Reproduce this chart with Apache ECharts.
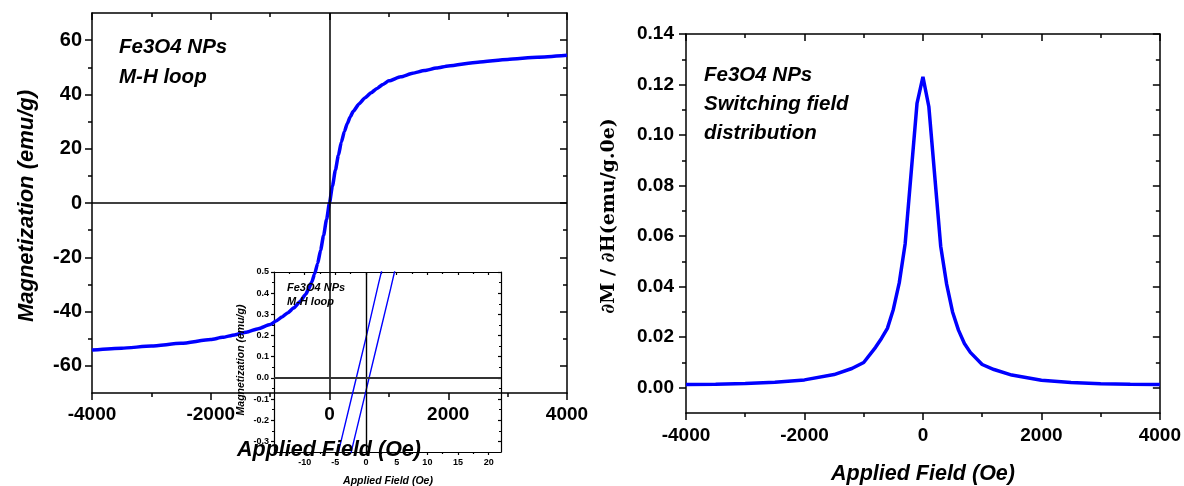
<!DOCTYPE html>
<html>
<head>
<meta charset="utf-8">
<script src="https://cdn.jsdelivr.net/npm/echarts@6/dist/echarts.min.js"></script>
<style>
  html, body { margin: 0; padding: 0; background: #fff; }
  #chart { width: 1184px; height: 486px; }
</style>
</head>
<body>
<div id="chart"></div>
<script>
// ---- M-H loop, main panel (field in Oe, magnetization in emu/g) ----
const mhField  = [-4000, -3500, -3000, -2500, -2000, -1800, -1600, -1400, -1200, -1000, -900, -800, -700, -600, -500, -400, -350, -300, -250, -200, -150, -100, -50, 0,
                   50, 100, 150, 200, 250, 300, 350, 400, 500, 600, 700, 800, 900, 1000, 1200, 1400, 1600, 1800, 2000, 2500, 3000, 3500, 4000];
const mhMoment = [-54.2, -53.5, -52.7, -51.7, -50.3, -49.5, -48.6, -47.6, -46.3, -44.8, -43.5, -42.0, -40.4, -38.6, -36.4, -33.6, -31.6, -29.1, -26.1, -22.3, -17.4, -12.0, -6.1, 0.1,
                   6.3, 12.2, 17.6, 22.5, 26.3, 29.3, 31.8, 33.8, 36.6, 38.8, 40.6, 42.2, 43.7, 45.0, 46.5, 47.8, 48.8, 49.7, 50.5, 51.9, 52.9, 53.7, 54.4];

// ---- M-H loop, low-field inset (two branches) ----
const branchDownField  = [-6, -4, -2, 0, 2, 4];
const branchDownMoment = [-0.53, -0.29, -0.05, 0.19, 0.44, 0.68];
const branchUpField    = [-4, -2, 0, 2, 4, 6];
const branchUpMoment   = [-0.54, -0.30, -0.06, 0.18, 0.42, 0.67];

// ---- Switching field distribution dM/dH ----
const sfdField = [-4000, -3500, -3000, -2500, -2000, -1500, -1200, -1000, -800, -700, -600, -500, -400, -300, -100, 0,
                  100, 300, 400, 500, 600, 700, 800, 1000, 1200, 1500, 2000, 2500, 3000, 3500, 4000];
const sfdValue = [0.0013, 0.0014, 0.0017, 0.0022, 0.0031, 0.0052, 0.0076, 0.0100, 0.0160, 0.0195, 0.0235, 0.0310, 0.0415, 0.0570, 0.1125, 0.1230,
                  0.1112, 0.0560, 0.0410, 0.0300, 0.0228, 0.0175, 0.0140, 0.0092, 0.0072, 0.0050, 0.0030, 0.0021, 0.0016, 0.0014, 0.0013];

// ---- tick values ----
const fieldTicks        = [-4000, -2000, 0, 2000, 4000];
const fieldMinorTicks   = [-3000, -1000, 1000, 3000];
const momentTicks       = [-60, -40, -20, 0, 20, 40, 60];
const momentMinorTicks  = [-50, -30, -10, 10, 30, 50];
const insetFieldTicks   = [-10, -5, 0, 5, 10, 15, 20];
const insetFieldMinor   = [-12.5, -7.5, -2.5, 2.5, 7.5, 12.5, 17.5];
const insetMomentTicks  = [-0.3, -0.2, -0.1, 0.0, 0.1, 0.2, 0.3, 0.4, 0.5];
const insetMomentMinor  = [-0.25, -0.15, -0.05, 0.05, 0.15, 0.25, 0.35, 0.45];
const sfdTicks          = [0, 0.02, 0.04, 0.06, 0.08, 0.10, 0.12, 0.14];
const sfdMinorTicks     = [0.01, 0.03, 0.05, 0.07, 0.09, 0.11, 0.13];

const SANS = '"Liberation Sans", Arial, Helvetica, sans-serif';
const BLUE = '#0000ff';

const zip = (a, b) => a.map((v, i) => [v, b[i]]);

// Four axes per side pair: labelled/major on the primary side, minor ticks,
// and mirrored inward ticks on the opposite side to close the frame.
function frameAxes(dim, gridIndex, min, max, major, minor, o) {
  const sides = dim === 'x' ? ['bottom', 'top'] : ['left', 'right'];
  const line = { color: '#000', width: o.lineWidth };
  const base = { type: 'value', gridIndex, min, max, splitLine: { show: false } };
  return [
    Object.assign({}, base, {
      position: sides[0],
      axisLine: { show: true, onZero: false, lineStyle: line },
      axisTick: { show: true, inside: false, length: o.major, customValues: major, lineStyle: line },
      axisLabel: {
        show: true, customValues: o.labels || major, margin: o.margin,
        fontFamily: SANS, fontWeight: 'bold', fontSize: o.fontSize, color: '#000',
        formatter: o.format
      }
    }),
    Object.assign({}, base, {
      position: sides[0],
      axisLine: { show: false, onZero: false },
      axisTick: { show: true, inside: false, length: o.minor, customValues: minor, lineStyle: line },
      axisLabel: { show: false }
    }),
    Object.assign({}, base, {
      position: sides[1],
      axisLine: { show: true, onZero: false, lineStyle: line },
      axisTick: { show: true, inside: true, length: o.major, customValues: major, lineStyle: line },
      axisLabel: { show: false }
    }),
    Object.assign({}, base, {
      position: sides[1],
      axisLine: { show: false, onZero: false },
      axisTick: { show: true, inside: true, length: o.minor, customValues: minor, lineStyle: line },
      axisLabel: { show: false }
    })
  ];
}

const mainStyle  = { lineWidth: 1.5, major: 7, minor: 4, fontSize: 19 };
const insetStyle = { lineWidth: 1.2, major: 3, minor: 2, fontSize: 9 };

const xAxes = [].concat(
  frameAxes('x', 0, -4000, 4000, fieldTicks, fieldMinorTicks, Object.assign({}, mainStyle, { margin: 12, format: v => String(v) })),
  frameAxes('x', 1, -15, 22, insetFieldTicks, insetFieldMinor, Object.assign({}, insetStyle, { margin: 6, format: v => String(v) })),
  frameAxes('x', 2, -4000, 4000, fieldTicks, fieldMinorTicks, Object.assign({}, mainStyle, { margin: 13, format: v => String(v) }))
);
const yAxes = [].concat(
  frameAxes('y', 0, -70, 70, momentTicks, momentMinorTicks, Object.assign({}, mainStyle, { margin: 10, fontSize: 20, format: v => String(v) })),
  frameAxes('y', 1, -0.35, 0.5, insetMomentTicks, insetMomentMinor, Object.assign({}, insetStyle, { margin: 5, format: v => v.toFixed(1) })),
  frameAxes('y', 2, -0.01, 0.14, sfdTicks, sfdMinorTicks, Object.assign({}, mainStyle, { margin: 12, format: v => v.toFixed(2) }))
);

function zeroLines(color, width) {
  return {
    silent: true,
    symbol: ['none', 'none'],
    label: { show: false },
    lineStyle: { color, width, type: 'solid' },
    data: [{ xAxis: 0 }, { yAxis: 0 }]
  };
}

function text(x, y, str, font, opts) {
  return Object.assign({
    type: 'text', x, y, z: 100,
    style: Object.assign({ text: str, font, fill: '#000', align: 'left', verticalAlign: 'middle' }, (opts && opts.style) || {})
  }, opts && opts.rotation ? { rotation: opts.rotation } : {});
}

const BI = size => 'italic bold ' + size + 'px ' + SANS;

const option = {
  animation: false,
  backgroundColor: '#fff',
  grid: [
    { left: 92,  top: 13,  width: 475, height: 380 },
    { left: 274, top: 272, width: 227, height: 180 },
    { left: 686, top: 34,  width: 475, height: 379 }
  ],
  xAxis: xAxes,
  yAxis: yAxes,
  series: [
    {
      name: 'M-H loop', type: 'line', xAxisIndex: 0, yAxisIndex: 0,
      data: zip(mhField, mhMoment), smooth: 0.2, smoothMonotone: 'x',
      showSymbol: false, symbol: 'none',
      lineStyle: { color: BLUE, width: 3.5 },
      markLine: zeroLines('#000', 1.5)
    },
    {
      name: 'descending branch', type: 'line', xAxisIndex: 4, yAxisIndex: 4,
      data: zip(branchDownField, branchDownMoment), symbol: 'none', clip: true,
      lineStyle: { color: BLUE, width: 1.4 },
      markLine: {
        silent: true, symbol: ['none', 'none'], label: { show: false },
        data: [
          { xAxis: 0, lineStyle: { color: '#000', width: 1.4, type: 'solid' } },
          { yAxis: 0, lineStyle: { color: '#333', width: 2, type: 'solid' } }
        ]
      }
    },
    {
      name: 'ascending branch', type: 'line', xAxisIndex: 4, yAxisIndex: 4,
      data: zip(branchUpField, branchUpMoment), symbol: 'none', clip: true,
      lineStyle: { color: BLUE, width: 1.4 }
    },
    {
      name: 'switching field distribution', type: 'line', xAxisIndex: 8, yAxisIndex: 8,
      data: zip(sfdField, sfdValue), symbol: 'none',
      lineStyle: { color: BLUE, width: 3.5 }
    }
  ],
  graphic: [
    // main M-H panel
    text(27, 206, 'Magnetization (emu/g)', BI(22), { rotation: Math.PI / 2, style: { align: 'center' } }),
    text(329, 450, 'Applied Field (Oe)', BI(21.5), { style: { align: 'center' } }),
    text(119, 47, 'Fe3O4 NPs', BI(20.5)),
    text(119, 77, 'M-H loop', BI(20.5)),
    // inset
    text(287, 288, 'Fe3O4 NPs', BI(11)),
    text(287, 302, 'M-H loop', BI(11)),
    text(241, 360, 'Magnetization (emu/g)', BI(10.5), { rotation: Math.PI / 2, style: { align: 'center' } }),
    text(388, 481, 'Applied Field (Oe)', BI(10.5), { style: { align: 'center' } }),
    // switching field distribution panel
    text(609, 216, '\u2202M / \u2202H(emu/g.0e)', 'bold 19px "DejaVu Serif", serif', { rotation: Math.PI / 2, style: { align: 'center' } }),
    text(923, 474, 'Applied Field (Oe)', BI(21.5), { style: { align: 'center' } }),
    text(704, 75, 'Fe3O4 NPs', BI(20.5)),
    text(704, 104, 'Switching field', BI(20.5)),
    text(704, 133, 'distribution', BI(20.5))
  ]
};

echarts.init(document.getElementById('chart'), null, { renderer: 'canvas' }).setOption(option);
</script>
</body>
</html>
